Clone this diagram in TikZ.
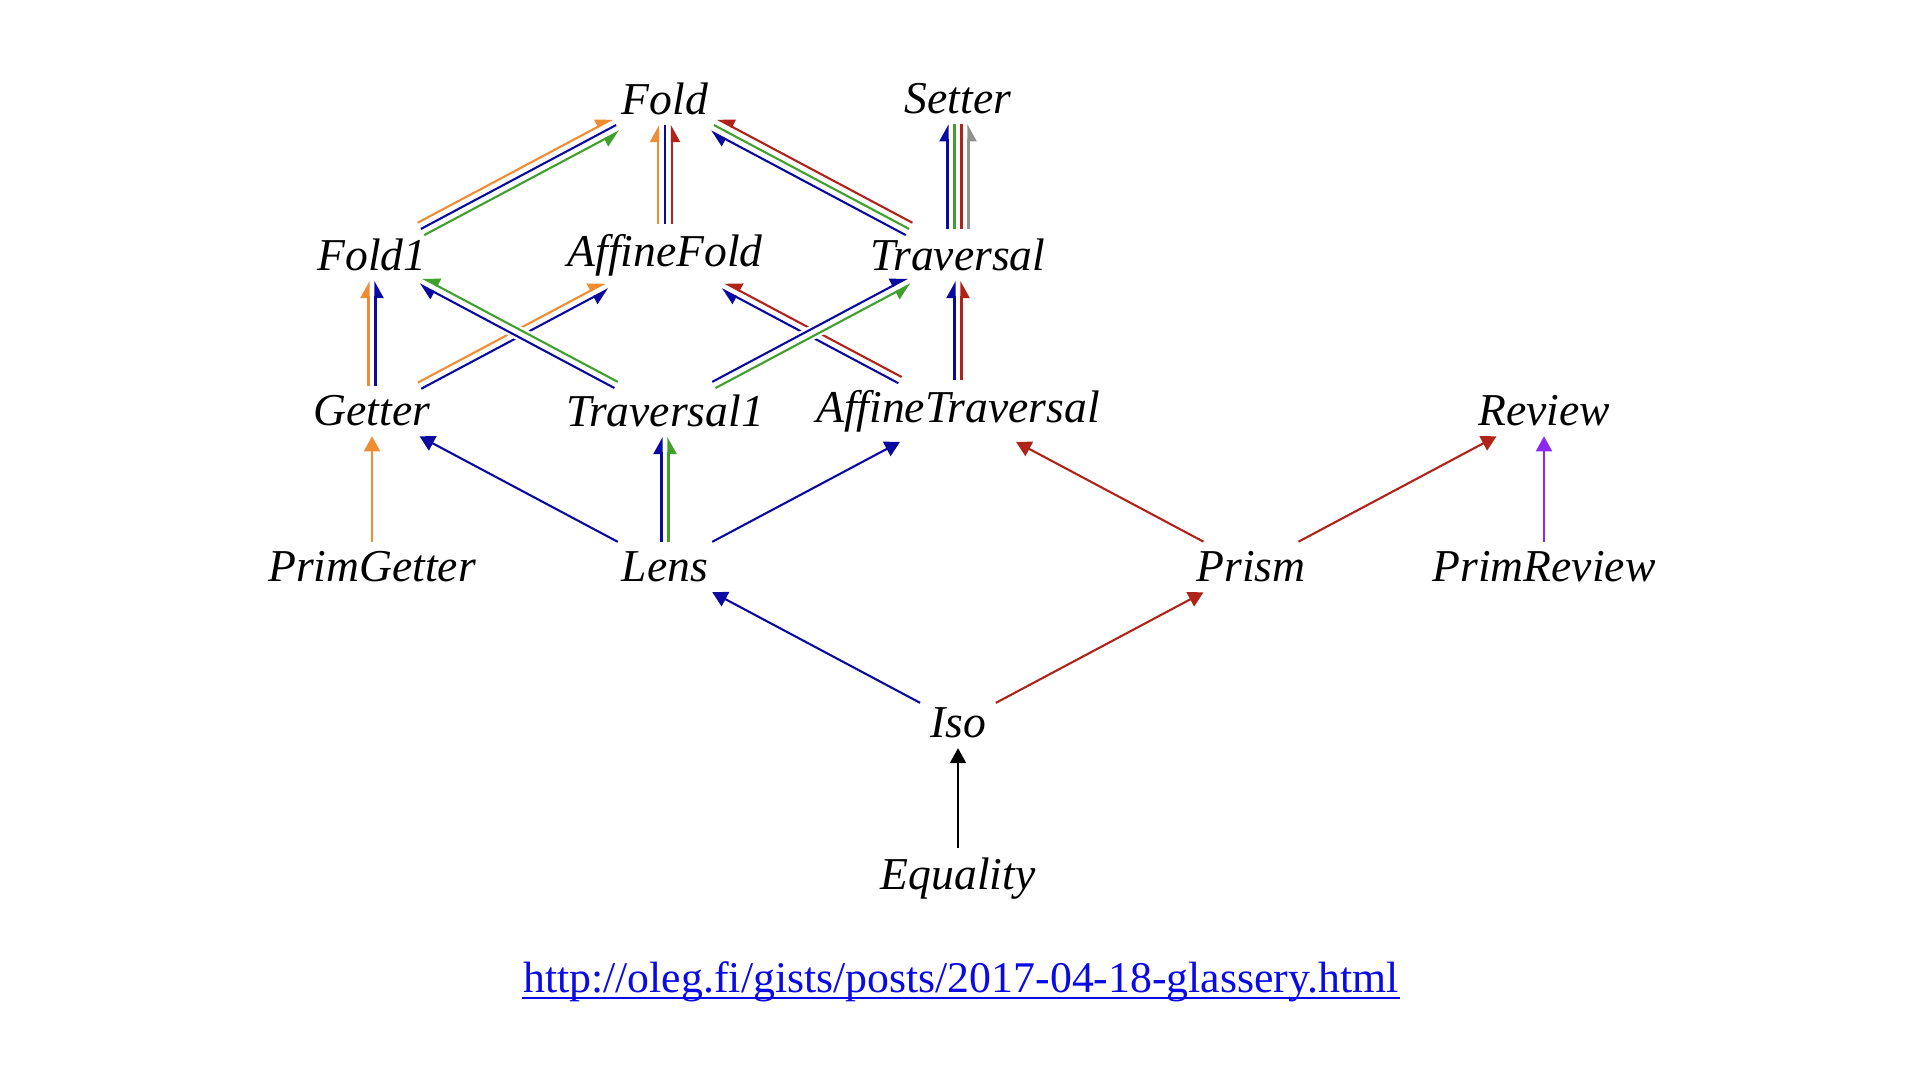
\documentclass[tikz,border=0pt]{standalone}
\usepackage{fontspec}
\newfontfamily\libserif{Liberation Serif}
\usetikzlibrary{arrows.meta,calc}
\definecolor{cblue}{RGB}{10,10,160}
\definecolor{cred}{RGB}{175,35,25}
\definecolor{cgreen}{RGB}{65,160,45}
\definecolor{corange}{RGB}{240,140,50}
\definecolor{cgray}{RGB}{145,145,145}
\definecolor{cpurple}{RGB}{140,40,240}
\definecolor{curl}{RGB}{10,10,230}
\newcommand\palit{\libserif\itshape\fontsize{22.8}{28}\selectfont}
\newcommand\bundle[3]{%
  \path (#1) -- (#2) coordinate[pos=0] (bS) coordinate[pos=1] (bE);
  \foreach \bc/\bo/\bt in {#3}{%
    \draw[\bc,\bt] ($(bS)!\bo!90:(bE)$) -- ($(bE)!\bo!-90:(bS)$);
  }%
}
\newcommand\bundleH[3]{%
  \path (#1) -- (#2) coordinate[pos=0] (bS) coordinate[pos=1] (bE);
  \draw[white, line width=7pt, shorten <=12pt, shorten >=12pt] (bS) -- (bE);
  \foreach \bc/\bo/\bt in {#3}{%
    \draw[\bc,\bt] ($(bS)!\bo!90:(bE)$) -- ($(bE)!\bo!-90:(bS)$);
  }%
}
\tikzset{
  lbl/.style={font=\palit, inner sep=0pt, outer sep=5pt, anchor=center},
  tipF/.style={-{Triangle[length=7.5pt,width=8pt]}},
  tipL/.style={-{Triangle[left,length=7.5pt,width=8pt]}},
  tipR/.style={-{Triangle[right,length=7.5pt,width=8pt]}},
  tipN/.style={},
}
\begin{document}
\begin{tikzpicture}[x=0.5pt,y=-0.5pt,line width=1.05pt]
\useasboundingbox[fill=white] (0,0) rectangle (1920,1080);
% nodes
\node[lbl] (fold)    at (665,99)   {Fold};
\node[lbl] (setter)  at (958,99)   {Setter};
\node[lbl] (fold1)   at (372,255)  {Fold1};
\node[lbl] (afold)   at (665,255)  {AffineFold};
\node[lbl] (trav)    at (958,255)  {Traversal};
\node[lbl] (getter)  at (372,411)  {Getter};
\node[lbl] (trav1)   at (665,411)  {Traversal1};
\node[lbl] (atrav)   at (958,411)  {AffineTraversal};
\node[lbl] (review)  at (1544,411) {Review};
\node[lbl] (pgetter) at (372,567)  {PrimGetter};
\node[lbl] (lens)    at (665,567)  {Lens};
\node[lbl] (prism)   at (1251,567) {Prism};
\node[lbl] (preview) at (1544,567) {PrimReview};
\node[lbl] (iso)     at (958,723)  {Iso};
\node[lbl] (eq)      at (958,879)  {Equality};
\node[font=\libserif\fontsize{21.9}{26}\selectfont, text=curl, inner sep=0pt, anchor=base] (url) at (961,992) {http://oleg.fi/gists/posts/2017-04-18-glassery.html};
\draw[curl, line width=1pt] ([yshift=-3pt]url.base west) -- ([yshift=-3pt]url.base east);
% single arrows
\draw[corange, tipF] (pgetter) -- (getter);
\draw[cblue, tipF] (lens) -- (getter);
\draw[cblue, tipF] (lens) -- (atrav);
\draw[cred, tipF] (prism) -- (atrav);
\draw[cred, tipF] (prism) -- (review);
\draw[cpurple, tipF] (preview) -- (review);
\draw[cblue, tipF] (iso) -- (lens);
\draw[cred, tipF] (iso) -- (prism);
\draw[black, tipF] (eq) -- (iso);
% bundles
\bundle{fold1}{fold}{corange/3.5pt/tipL, cblue/0pt/tipN, cgreen/-3.5pt/tipR}
\bundle{afold}{fold}{corange/3.5pt/tipL, cblue/0pt/tipN, cred/-3.5pt/tipR}
\bundle{trav}{fold}{cblue/3.5pt/tipL, cgreen/0pt/tipN, cred/-3.5pt/tipR}
\bundle{trav}{setter}{cblue/5.25pt/tipL, cgreen/1.75pt/tipN, cred/-1.75pt/tipN, cgray/-5.25pt/tipR}
\bundle{getter}{fold1}{corange/1.75pt/tipL, cblue/-1.75pt/tipR}
\bundle{getter}{afold}{corange/1.75pt/tipL, cblue/-1.75pt/tipR}
\bundle{atrav}{afold}{cblue/1.75pt/tipL, cred/-1.75pt/tipR}
\bundle{atrav}{trav}{cblue/1.75pt/tipL, cred/-1.75pt/tipR}
\bundle{lens}{trav1}{cblue/1.75pt/tipL, cgreen/-1.75pt/tipR}
\bundleH{trav1}{fold1}{cblue/1.75pt/tipL, cgreen/-1.75pt/tipR}
\bundleH{trav1}{trav}{cblue/1.75pt/tipL, cgreen/-1.75pt/tipR}
\end{tikzpicture}
\end{document}
